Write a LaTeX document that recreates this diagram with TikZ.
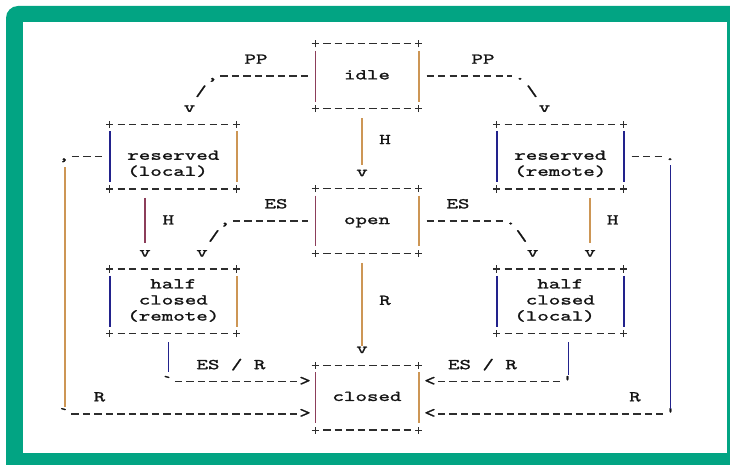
\documentclass[tikz,border=0pt]{standalone}
\usepackage{fontspec}
\setmonofont{lmmono10-regular.otf}[FakeStretch=1.46,FakeBold=1.4]
\usetikzlibrary{calc}

\definecolor{framegreen}{RGB}{2,164,131}
\definecolor{ink}{RGB}{20,20,20}
\definecolor{hyphgray}{RGB}{45,45,45}
\definecolor{pipetan}{RGB}{205,150,85}
\definecolor{pipeblue}{RGB}{34,34,140}
\definecolor{pipered}{RGB}{140,62,90}

\newcommand{\asl}[1]{\strut#1}

\tikzset{
  ascfont/.style={font=\ttfamily\fontsize{15}{16.08}\selectfont, text=ink},
  asc/.style={ascfont, inner sep=0pt, anchor=base, yshift=-3.6pt},
  state/.style={ascfont, inner sep=0pt, align=center, minimum height=64.32pt},
  narrow/.style={state, minimum width=103pt},
  wide/.style={state, minimum width=126.7pt},
  hyph/.style={draw=hyphgray, line width=1.35pt, dash pattern=on 7.3pt off 4.2pt},
  pipe/.style={line width=1.6pt},
  plusmark/.pic={\draw[hyphgray, line width=1.2pt] (-3.6pt,0pt) -- (3.6pt,0pt) (0pt,-3.6pt) -- (0pt,3.6pt);}
}

\begin{document}
\begin{tikzpicture}[x=1pt, y=-16.08pt]

\useasboundingbox (0,-2.736) rectangle (730,26.12);
% frame
\fill[framegreen, rounded corners=12pt] (6,-2.363) rectangle (760,28);
\fill[white] (23,-1.368) rectangle (727,25.435);

% states
\node[narrow] (idle)   at (367,2)    {\asl{idle}};
\node[wide]   (resloc) at (173.3,7)  {\asl{}\\\asl{reserved}\\\asl{(local)\hphantom{x}}};
\node[wide]   (resrem) at (560.3,7)  {\asl{}\\\asl{reserved}\\\asl{(remote)}};
\node[narrow] (open)   at (367,11)   {\asl{open}};
\node[wide]   (hcrem)  at (173.3,16) {\asl{half}\\\asl{closed}\\\asl{(remote)}};
\node[wide]   (hcloc)  at (560.3,16) {\asl{half}\\\asl{closed}\\\asl{(local)\hphantom{x}}};
\node[narrow] (closed) at (367,22)   {\asl{closed}};

% box borders
\foreach \s/\cl/\cr in {idle/pipered/pipetan, open/pipered/pipetan, closed/pipered/pipetan,
    resloc/pipeblue/pipetan, resrem/pipeblue/pipeblue, hcrem/pipeblue/pipetan, hcloc/pipeblue/pipeblue}{
  \draw[hyph, shorten <=7.9pt, shorten >=7.9pt] (\s.north west) -- (\s.north east);
  \draw[hyph, shorten <=7.9pt, shorten >=7.9pt] (\s.south west) -- (\s.south east);
  \draw[pipe, draw=\cl, shorten <=7pt, shorten >=7pt] (\s.north west) -- (\s.south west);
  \draw[pipe, draw=\cr, shorten <=7pt, shorten >=7pt] (\s.north east) -- (\s.south east);
  \foreach \a in {north west, north east, south west, south east}
    \pic at (\s.\a) {plusmark};
}

% idle -> reserved (local)
\path (212.5,2) coordinate (ppl-a) node[asc] (ppl-comma) {,};
\path (201,3)   coordinate (ppl-b) node[asc] (ppl-slash) {/};
\path (189.5,4) coordinate (ppl-c) node[asc] (ppl-tip) {v};
\node[asc] (ppl-lbl) at (256,1) {PP};
\draw[hyph, shorten <=7.8pt, shorten >=7.8pt] (ppl-a) -- (idle.west);

% idle -> reserved (remote)
\path (520,2)   coordinate (ppr-a) node[asc] (ppr-dot) {.};
\path (532,3)   coordinate (ppr-b) node[asc] (ppr-slash) {\textbackslash};
\path (544.5,4) coordinate (ppr-c) node[asc] (ppr-tip) {v};
\node[asc] (ppr-lbl) at (483,1) {PP};
\draw[hyph, shorten <=7.8pt, shorten >=7.8pt] (idle.east) -- (ppr-a);

% idle -> open
\draw[pipe, pipetan] ($(idle.south)+(-5,0.6)$) -- ($(open.north)+(-5,-1.45)$);
\node[asc] (io-tip) at (362,8) {v};
\node[asc] (io-lbl) at (385,6) {H};

% reserved (local) -> closed
\path (64,7)  coordinate (rlc-a) node[asc] (rlc-comma) {,};
\path (63.5,23) coordinate (rlc-b) node[asc] (rlc-turn) {`};
\path (305,23) coordinate (rlc-c) node[asc] (rlc-tip) {>};
\node[asc] (rlc-lbl) at (99.5,22) {R};
\draw[hyph, shorten <=7.8pt, shorten >=7.8pt] (rlc-a) -- (resloc.west);
\draw[pipe, pipetan] ($(rlc-a)+(1,0.65)$) -- ($(rlc-b)+(1.5,-0.45)$);
\draw[hyph, shorten <=7.8pt, shorten >=7.8pt] (rlc-b) -- (rlc-c);

% reserved (remote) -> closed
\path (670,7)  coordinate (rrc-a) node[asc] (rrc-dot) {.};
\path (670.5,23) coordinate (rrc-b) node[asc] (rrc-turn) {'};
\path (430,23) coordinate (rrc-c) node[asc] (rrc-tip) {<};
\node[asc] (rrc-lbl) at (635,22) {R};
\draw[hyph, shorten <=7.8pt, shorten >=7.8pt] (resrem.east) -- (rrc-a);
\draw[pipe, pipeblue] ($(rrc-a)+(0.5,0.55)$) -- ($(rrc-b)+(0,-0.3)$);
\draw[hyph, shorten <=7.8pt, shorten >=7.8pt] (rrc-c) -- (rrc-b);

% reserved -> half closed
\draw[pipe, pipered] ($(resloc.south)+(-28.3,0.55)$) -- ($(hcrem.north)+(-28.3,-1.6)$);
\node[asc] (lh-tip) at (145,13) {v};
\node[asc] (lh-lbl) at (168.3,11) {H};
\draw[pipe, pipetan] ($(resrem.south)+(29.7,0.55)$) -- ($(hcloc.north)+(29.7,-1.6)$);
\node[asc] (rh-tip) at (590,13) {v};
\node[asc] (rh-lbl) at (612.7,11) {H};

% open -> half closed (remote)
\path (225,11) coordinate (oel-a) node[asc] (oel-comma) {,};
\path (214,12) coordinate (oel-b) node[asc] (oel-slash) {/};
\path (202,13) coordinate (oel-c) node[asc] (oel-tip) {v};
\node[asc] (oel-lbl) at (276,10) {ES};
\draw[hyph, shorten <=7.8pt, shorten >=7.8pt] (oel-a) -- (open.west);

% open -> half closed (local)
\path (510.7,11) coordinate (oer-a) node[asc] (oer-dot) {.};
\path (521.5,12) coordinate (oer-b) node[asc] (oer-slash) {\textbackslash};
\path (532.7,13) coordinate (oer-c) node[asc] (oer-tip) {v};
\node[asc] (oer-lbl) at (458,10) {ES};
\draw[hyph, shorten <=7.8pt, shorten >=7.8pt] (open.east) -- (oer-a);

% open -> closed
\draw[pipe, pipetan] ($(open.south)+(-5,0.6)$) -- ($(closed.north)+(-5,-1.2)$);
\node[asc] (oc-tip) at (362,19) {v};
\node[asc] (oc-lbl) at (385,16) {R};

% half closed -> closed
\path (167,21) coordinate (kl-a) node[asc] (kl-turn) {`};
\path (305,21) coordinate (kl-b) node[asc] (kl-tip) {>};
\node[asc] (kl-lbl) at (231,20) {ES / R};
\draw[pipe, pipeblue] ($(hcrem.south)+(-5,0.55)$) -- ($(kl-a)+(1.3,-0.6)$);
\draw[hyph, shorten <=7.8pt, shorten >=7.8pt] (kl-a) -- (kl-b);

\path (567.5,21) coordinate (kr-a) node[asc] (kr-turn) {'};
\path (430,21) coordinate (kr-b) node[asc] (kr-tip) {<};
\node[asc] (kr-lbl) at (482.5,20) {ES / R};
\draw[pipe, pipeblue] ($(hcloc.south)+(8,0.55)$) -- ($(kr-a)+(0.8,-0.4)$);
\draw[hyph, shorten <=7.8pt, shorten >=7.8pt] (kr-b) -- (kr-a);

\end{tikzpicture}
\end{document}
